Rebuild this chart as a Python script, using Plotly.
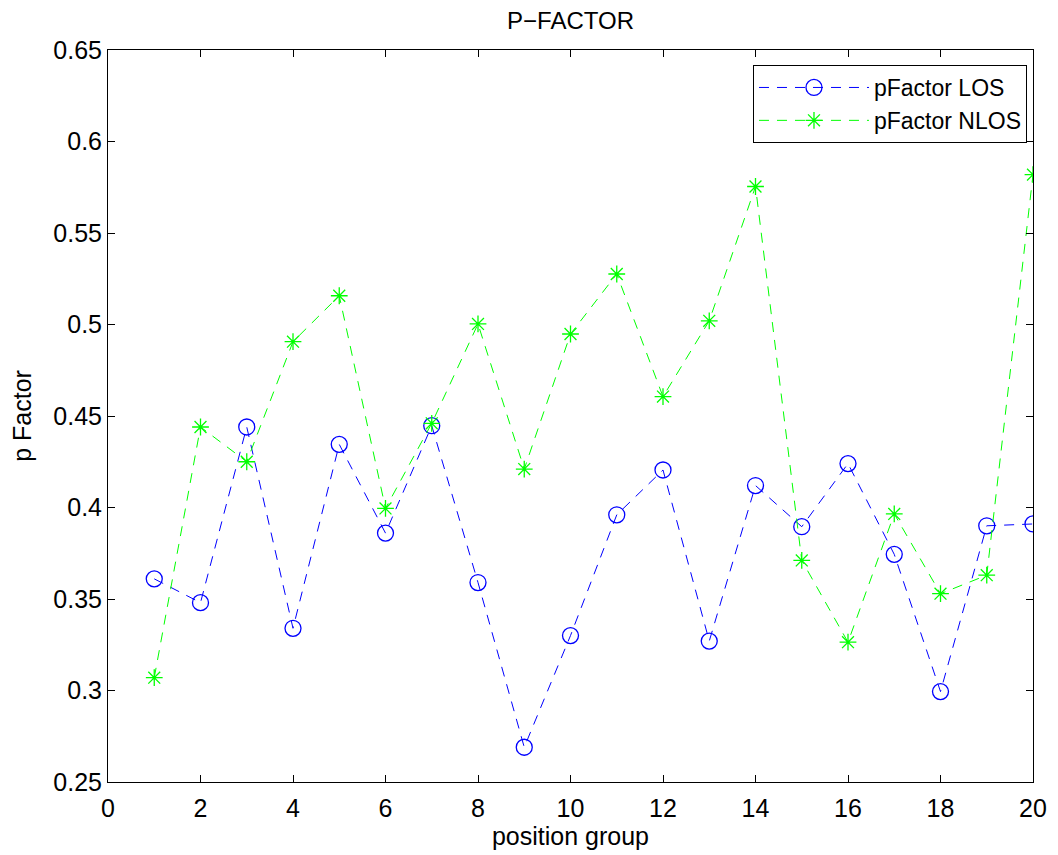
import plotly.graph_objects as go

position_group = list(range(1, 21))
pfactor_los = [0.361, 0.348, 0.444, 0.334, 0.4345, 0.386, 0.4447, 0.359, 0.269, 0.330,
               0.396, 0.4205, 0.327, 0.412, 0.3895, 0.424, 0.3744, 0.2994, 0.390, 0.391]
pfactor_nlos = [0.307, 0.444, 0.425, 0.4906, 0.5157, 0.3995, 0.446, 0.5003, 0.421, 0.4948,
                0.5276, 0.4606, 0.502, 0.5754, 0.3711, 0.3264, 0.3965, 0.3529, 0.363, 0.5819]
x_ticks = list(range(0, 21, 2))
y_ticks = [0.25, 0.3, 0.35, 0.4, 0.45, 0.5, 0.55, 0.6, 0.65]
y_tick_labels = ["0.25", "0.3", "0.35", "0.4", "0.45", "0.5", "0.55", "0.6", "0.65"]

FS = 25

fig = go.Figure()
fig.add_trace(go.Scatter(
    x=position_group, y=pfactor_los, mode="lines+markers", name="pFactor LOS",
    line=dict(color="#0000ff", width=1, dash="10px,8px"),
    marker=dict(symbol="circle-open", size=16, color="#0000ff", line=dict(width=1.3, color="#0000ff")),
))
fig.add_trace(go.Scatter(
    x=position_group, y=pfactor_nlos, mode="lines+markers", name="pFactor NLOS",
    line=dict(color="#00ff00", width=1, dash="10px,8px"),
    marker=dict(symbol="asterisk-open", size=14, color="#00ff00", line=dict(width=1.3, color="#00ff00")),
))

axis_common = dict(
    showgrid=False, zeroline=False, showline=True, linecolor="black", linewidth=1,
    mirror="allticks", ticks="inside", ticklen=7, tickcolor="black", tickwidth=1,
    tickfont=dict(size=FS, color="black"),
)
fig.update_xaxes(range=[0, 20], tickvals=x_ticks, ticklabelstandoff=4,
                 title=dict(text="position group", font=dict(size=FS, color="black"), standoff=4),
                 **axis_common)
fig.update_yaxes(range=[0.25, 0.65], tickvals=y_ticks, ticktext=y_tick_labels,
                 title=dict(text="p Factor", font=dict(size=FS, color="black"), standoff=16),
                 **axis_common)

fig.update_layout(
    width=1050, height=847,
    margin=dict(l=100, r=25, t=42, b=73),
    paper_bgcolor="white", plot_bgcolor="white",
    font=dict(family="Liberation Sans, Arial, sans-serif", color="black"),
    title=dict(text="P\u2212FACTOR", x=0.5, xanchor="center", xref="paper",
               y=0.985, yanchor="middle", font=dict(size=24, color="black")),
    legend=dict(x=0.9935, xanchor="right", y=0.9795, yanchor="top",
                bgcolor="white", bordercolor="black", borderwidth=1,
                font=dict(size=23, color="black"), itemwidth=110, tracegroupgap=0),
    showlegend=True,
)

fig.write_html("out.html")
